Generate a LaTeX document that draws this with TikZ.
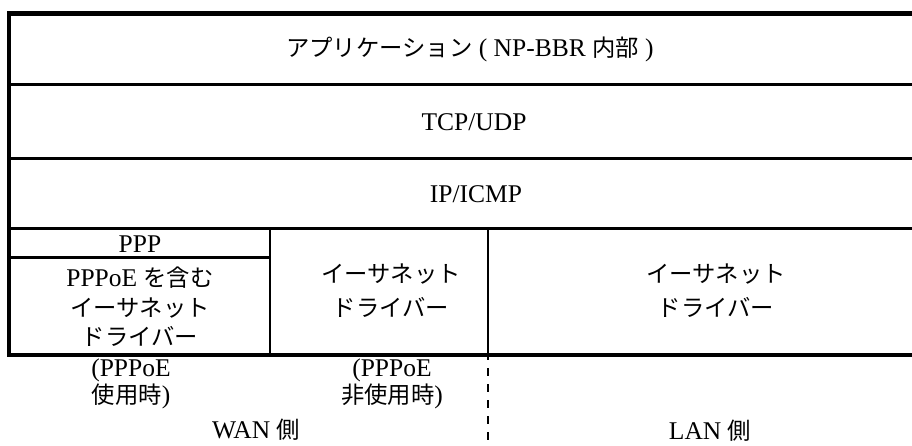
\documentclass[tikz,border=0pt]{standalone}
\usepackage{fontspec}
\setmainfont{Liberation Serif}
\newfontfamily\jp[Scale=0.915]{Noto Sans CJK JP}
\begin{document}
\begin{tikzpicture}[x=1pt,y=-1pt,
  lbl/.style={inner sep=0pt,align=center,font=\fontsize{25.5}{28}\selectfont},
  thick5/.style={line width=5pt},
  thick4/.style={line width=4pt},
  sep3/.style={line width=3pt},
  sep2/.style={line width=2pt},
  dsh/.style={line width=2pt,dash pattern=on 8pt off 8pt,dash phase=5pt}]
\useasboundingbox (0,0) rectangle (912,445);
% coordinates
\coordinate (tl) at (7.2,13.5);
\coordinate (tr) at (912,13.5);
\coordinate (l1) at (7.2,84.5);   \coordinate (r1) at (912,84.5);
\coordinate (l2) at (7.2,158.5);  \coordinate (r2) at (912,158.5);
\coordinate (l3) at (7.2,228.5);  \coordinate (r3) at (912,228.5);
\coordinate (lb) at (7.2,355.3);  \coordinate (rb) at (912,355.3);
\coordinate (lt) at (9.2,11);     \coordinate (lbt) at (9.2,357.3);
\coordinate (p1) at (9.2,257.5);  \coordinate (p2) at (270,257.5);
\coordinate (v1t) at (270,228.5); \coordinate (v1b) at (270,355.3);
\coordinate (v2t) at (487.7,228.5); \coordinate (v2b) at (487.7,355.3);
\coordinate (d1) at (487.7,357.3); \coordinate (d2) at (487.7,445);
% lines
\draw[thick5] (tl) -- (tr);
\draw[thick4] (lt) -- (lbt);
\draw[sep3] (l1) -- (r1);
\draw[sep3] (l2) -- (r2);
\draw[sep3] (l3) -- (r3);
\draw[sep3] (p1) -- (p2);
\draw[sep2] (v1t) -- (v1b);
\draw[sep2] (v2t) -- (v2b);
\draw[thick4] (lb) -- (rb);
\draw[dsh] (d1) -- (d2);
% texts
\node[lbl] (app) at (470,49.5) {{\jp アプリケーション} ( NP-BBR {\jp 内部} )};
\node[lbl] (tcp) at (474,122.5) {TCP/UDP};
\node[lbl] (ip) at (476,194.5) {IP/ICMP};
\node[lbl] (ppp) at (140,244) {PPP};
\node[lbl,font=\fontsize{25.5}{29.5}\selectfont] (pppoe) at (140,307) {PPPoE {\jp を含む}\\{\jp イーサネット}\\{\jp ドライバー}};
\node[lbl,font=\fontsize{25.5}{34}\selectfont] (eth1) at (391,290.5) {{\jp イーサネット}\\{\jp ドライバー}};
\node[lbl,font=\fontsize{25.5}{34}\selectfont] (eth2) at (716,290.5) {{\jp イーサネット}\\{\jp ドライバー}};
\node[lbl,font=\fontsize{25.5}{27}\selectfont] (use) at (131,384) {(PPPoE\\{\jp 使用時})};
\node[lbl,font=\fontsize{25.5}{27}\selectfont] (nouse) at (392,384) {(PPPoE\\{\jp 非使用時})};
\node[lbl] (wan) at (256,429.5) {WAN {\jp 側}};
\node[lbl] (lan) at (710,430.5) {LAN {\jp 側}};
\end{tikzpicture}
\end{document}
